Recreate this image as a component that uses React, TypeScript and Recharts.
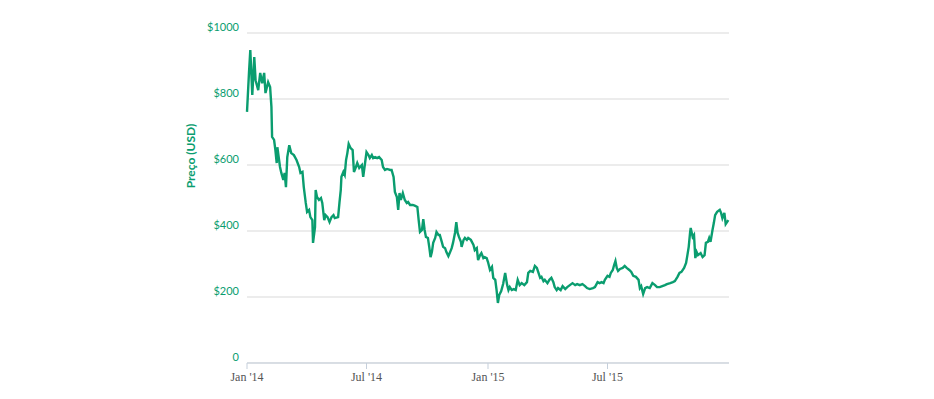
import { LineChart, Line, XAxis, YAxis, CartesianGrid } from "recharts";

// dias desde 1 jan 2014
const days = [
  0, 3, 5, 8, 11, 13, 17, 20, 23, 26, 28, 32, 35, 37, 38, 41, 43, 45, 46, 48, 50, 52, 55, 57, 59,
  61, 64, 67, 71, 75, 79, 81, 84, 86, 89, 91, 94, 96, 99, 100, 103, 104, 106, 109, 112, 114, 117,
  119, 122, 125, 128, 131, 133, 138, 140, 142, 143, 146, 148, 150, 152, 154, 157, 160, 162, 165,
  167, 170, 174, 176, 179, 181, 184, 186, 189, 191, 194, 197, 200, 204, 206, 209, 212, 217, 219,
  222, 224, 227, 229, 231, 233, 236, 239, 242, 244, 247, 251, 254, 258, 260, 262, 265, 267, 269,
  271, 274, 276, 278, 280, 282, 285, 287, 290, 292, 295, 297, 300, 302, 305, 307, 310, 312, 315,
  317, 319, 321, 324, 325, 328, 330, 333, 335, 339, 343, 345, 348, 350, 353, 355, 358, 360, 363,
  365, 368, 371, 373, 376, 378, 380, 382, 385, 388, 391, 394, 396, 398, 401, 404, 407, 410, 413,
  416, 420, 424, 426, 429, 433, 436, 439, 441, 444, 446, 449, 451, 455, 458, 461, 464, 466, 469,
  471, 475, 478, 482, 485, 489, 493, 497, 500, 504, 508, 512, 515, 519, 524, 527, 531, 534, 537,
  540, 542, 546, 549, 551, 554, 556, 558, 560, 562, 565, 569, 572, 575, 579, 582, 585, 589, 593,
  595, 597, 600, 603, 606, 610, 614, 618, 621, 625, 629, 633, 636, 641, 645, 648, 652, 655, 658,
  662, 665, 667, 669, 671, 672, 675, 677, 679, 681, 683, 687, 690, 693, 695, 698, 700, 702, 705,
  707, 709, 712, 716, 718, 720, 723, 725, 727, 729,
];

// preço de fecho (USD)
const prices = [
  761, 879, 948, 812, 927, 857, 827, 879, 848, 879, 818, 851, 836, 776, 685, 676, 645, 606, 654,
  624, 594, 576, 555, 576, 533, 624, 660, 636, 630, 615, 594, 576, 579, 533, 485, 458, 464, 442,
  433, 364, 412, 524, 503, 494, 500, 485, 433, 448, 442, 427, 442, 448, 439, 442, 485, 524, 564,
  579, 570, 615, 636, 664, 651, 645, 579, 594, 606, 591, 600, 564, 609, 639, 630, 621, 630, 621,
  624, 621, 624, 615, 594, 585, 588, 585, 585, 564, 518, 503, 464, 515, 494, 515, 494, 485, 488,
  479, 479, 477, 473, 433, 397, 403, 436, 403, 382, 379, 352, 321, 336, 364, 379, 397, 388, 388,
  367, 352, 348, 336, 324, 333, 348, 364, 394, 427, 394, 382, 367, 352, 373, 379, 373, 379, 373,
  358, 342, 348, 312, 327, 333, 318, 321, 318, 306, 282, 291, 258, 252, 221, 182, 206, 218, 240,
  273, 236, 221, 230, 221, 224, 221, 252, 236, 242, 236, 245, 273, 279, 276, 294, 288, 276, 258,
  261, 248, 252, 242, 252, 258, 245, 230, 221, 227, 221, 233, 224, 230, 236, 242, 236, 239, 236,
  239, 233, 227, 224, 227, 230, 245, 242, 245, 242, 252, 264, 261, 273, 282, 297, 309, 288, 279,
  285, 288, 294, 288, 282, 276, 264, 261, 252, 227, 233, 209, 227, 230, 227, 242, 236, 230, 230,
  233, 236, 239, 242, 245, 248, 261, 273, 276, 288, 303, 327, 352, 394, 409, 382, 388, 318, 336,
  327, 333, 321, 327, 364, 367, 379, 367, 403, 424, 448, 458, 464, 455, 439, 455, 421, 427, 433,
];

const tickDays = [0, 181, 365, 546];
const tickLabels = ["Jan '14", "Jul '14", "Jan '15", "Jul '15"];
const priceTicks = [0, 200, 400, 600, 800, 1000];

const data = days.map((d, i) => ({ day: d, price: prices[i] }));

const GREEN = "#0a9d6f";

const YTick = (props: any) => {
  const { x, y, payload } = props;
  return (
    <text x={x} y={y - 2} textAnchor="end" fill={GREEN} fontSize={11} fontFamily="Lato, 'Open Sans', sans-serif">
      {payload.value === 0 ? "0" : `$${payload.value}`}
    </text>
  );
};

export default function App() {
  return (
    <div style={{ position: "absolute", left: 0, top: 0, background: "#fff" }}>
      <LineChart width={934} height={399} data={data} margin={{ top: 33, right: 205, bottom: 0, left: 0 }}>
        <CartesianGrid vertical={false} stroke="#d9d9d9" strokeWidth={1} />
        <XAxis
          dataKey="day"
          type="number"
          domain={[0, 730]}
          ticks={tickDays}
          tickFormatter={(v: number) => tickLabels[tickDays.indexOf(v)]}
          height={36}
          stroke="#c5cfdb"
          tickSize={6}
          tickMargin={3}
          tick={{ fill: "#555", fontSize: 12, fontFamily: "'Liberation Serif', serif" }}
        />
        <YAxis
          domain={[0, 1000]}
          ticks={priceTicks}
          width={247}
          axisLine={false}
          tickLine={false}
          tick={<YTick />}
          label={{
            content: () => (
              <text
                x={195}
                y={156}
                transform="rotate(-90 195 156)"
                textAnchor="middle"
                fill={GREEN}
                fontSize={12}
                fontWeight="bold"
                fontFamily="Lato, 'Open Sans', sans-serif"
              >
                Preço (USD)
              </text>
            ),
          }}
        />
        <Line
          type="linear"
          dataKey="price"
          stroke={GREEN}
          strokeWidth={2.4}
          dot={false}
          isAnimationActive={false}
        />
      </LineChart>
    </div>
  );
}
